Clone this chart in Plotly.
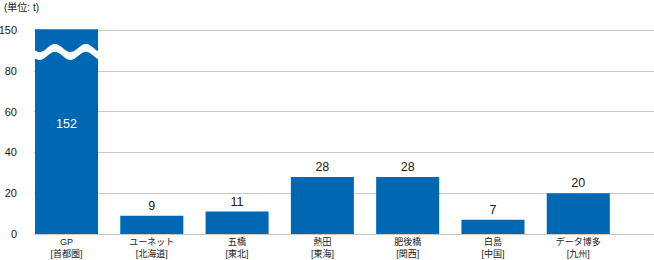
import numpy as np
import plotly.graph_objects as go

# ---- data ----
sites = ["GP", "ユーネット", "五橋", "熱田", "肥後橋", "白島", "データ博多"]
regions = ["首都圏", "北海道", "東北", "東海", "関西", "中国", "九州"]
values = [152, 9, 11, 28, 28, 7, 20]
y_tick_values = [0, 20, 40, 60, 80, 150]
unit_label = "(単位: t)"

# ---- broken axis transform: 80..150 compressed into 80..100 ----
BREAK_LO, BREAK_HI, BREAK_TOP = 80, 150, 100

def tr(v):
    if v <= BREAK_LO:
        return v
    return BREAK_LO + (v - BREAK_LO) * (BREAK_TOP - BREAK_LO) / (BREAK_HI - BREAK_LO)

disp = [tr(v) for v in values]
xs = list(range(len(sites)))
ticktext = [f"{s}<br>[{r}]" for s, r in zip(sites, regions)]

BLUE = "#0068b3"
GRID = "#c9c9c9"
TEXT = "#231815"
FONT = "Liberation Sans, Noto Sans CJK JP, sans-serif"
BAR_W = 0.739

broken = [v > BREAK_LO for v in values]

fig = go.Figure()
fig.add_trace(go.Bar(
    x=xs, y=disp, width=BAR_W,
    marker=dict(color=BLUE, line=dict(width=0)),
    text=["" if b else str(v) for v, b in zip(values, broken)],
    textposition="outside",
    outsidetextfont=dict(color=TEXT, size=12.5, family=FONT),
    constraintext="none",
    cliponaxis=False,
    hoverinfo="skip",
))

annotations = [dict(
    text=unit_label, xref="paper", yref="paper",
    x=-0.052, y=1.093, xanchor="left", yanchor="middle",
    showarrow=False, font=dict(size=10, family=FONT, color=TEXT),
)]

# wave break on bars exceeding the break, plus inside value label
for i, v in enumerate(values):
    if broken[i]:
        x0 = i - BAR_W / 2
        t = np.linspace(-0.03, 1.03, 80)
        top = 91.4 + 2.0 * np.cos(2 * np.pi * (t - 0.317) / 0.49)
        bot = top - 3.9
        xp = x0 + t * BAR_W
        pts = [f"{xx:.4f},{yy:.4f}" for xx, yy in zip(xp, top)]
        pts += [f"{xx:.4f},{yy:.4f}" for xx, yy in zip(xp[::-1], bot[::-1])]
        path = "M " + " L ".join(pts) + " Z"
        fig.add_shape(type="path", path=path, xref="x", yref="y",
                      fillcolor="white", line=dict(width=0), layer="above")
        annotations.append(dict(
            text=str(v), x=i, y=disp[i] / 2, xref="x", yref="y",
            yshift=8, showarrow=False,
            font=dict(color="white", size=12.5, family=FONT),
        ))

fig.update_layout(
    width=654, height=260,
    margin=dict(l=34, r=0, t=26, b=26),
    paper_bgcolor="white", plot_bgcolor="white",
    showlegend=False,
    font=dict(family=FONT, color=TEXT),
    xaxis=dict(
        range=[-0.381, 6.888],
        tickvals=xs, ticktext=ticktext,
        tickfont=dict(size=9, family=FONT, color=TEXT),
        showgrid=False, zeroline=False,
        showline=False, ticks="",
        ticklabelstandoff=1,
        fixedrange=True,
    ),
    yaxis=dict(
        range=[0, 102.2],
        tickvals=[tr(v) for v in y_tick_values],
        ticktext=[str(v) for v in y_tick_values],
        tickfont=dict(size=11, family=FONT, color=TEXT),
        showgrid=True, gridcolor=GRID, gridwidth=1,
        zeroline=True, zerolinecolor=GRID, zerolinewidth=1,
        showline=False, ticks="",
        ticklabelstandoff=16,
        fixedrange=True,
    ),
    annotations=annotations,
)

fig.write_html("out.html")
